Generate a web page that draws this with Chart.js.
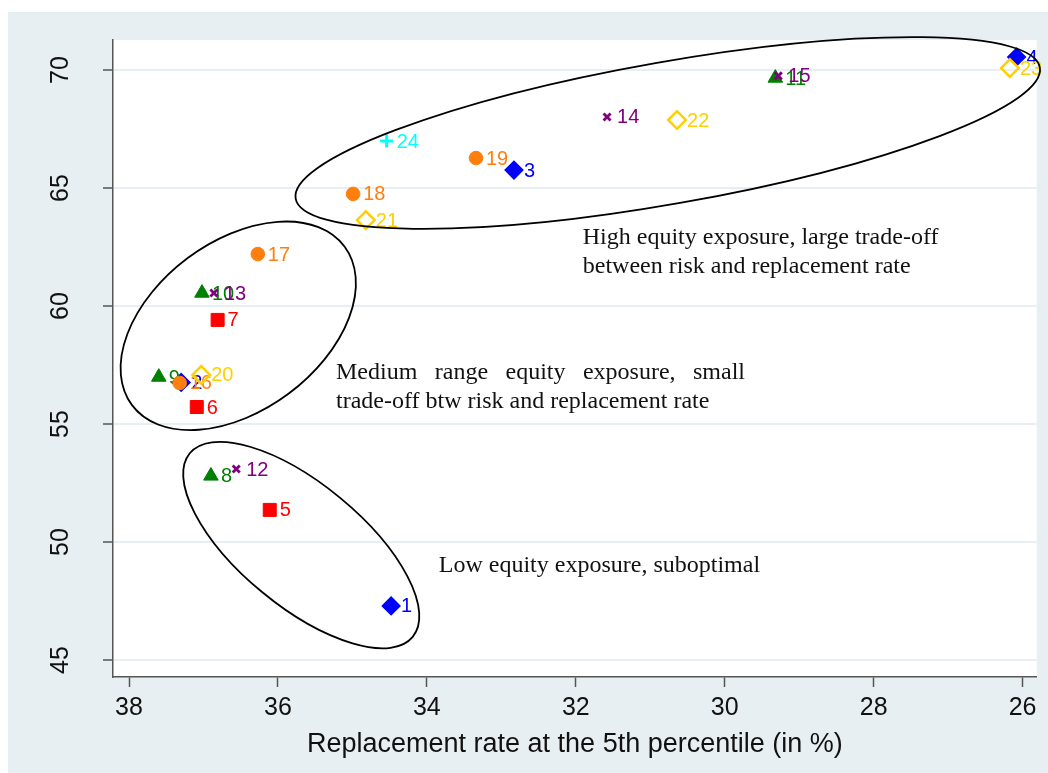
<!DOCTYPE html>
<html><head><meta charset="utf-8">
<script src="https://cdn.jsdelivr.net/npm/chart.js@4/dist/chart.umd.min.js"></script>
<style>html,body{margin:0;padding:0;background:#fff;}#wrap{width:1048px;height:773px;position:relative;}</style>
</head><body><div id="wrap"><canvas id="c" width="1048" height="773"></canvas></div>
<script>
// ---- data ----
const xTicks = [38, 36, 34, 32, 30, 28, 26];
const yTicks = [45, 50, 55, 60, 65, 70];
const xTitle = 'Replacement rate at the 5th percentile (in %)';

const blueIds = [1, 2, 3, 4];
const blueX = [34.48, 37.30, 32.83, 26.08];
const blueY = [47.29, 56.76, 65.76, 70.55];

const redIds = [5, 6, 7];
const redX = [36.11, 37.09, 36.81];
const redY = [51.36, 55.72, 59.41];

const greenIds = [8, 9, 10, 11];
const greenX = [36.90, 37.60, 37.02, 29.32];
const greenY = [52.80, 56.99, 60.55, 69.66];

const purpleIds = [12, 13, 14, 15];
const purpleX = [36.56, 36.86, 31.58, 29.28];
const purpleY = [53.09, 60.55, 68.01, 69.75];

const orangeIds = [16, 17, 18, 19];
const orangeX = [37.32, 36.27, 34.99, 33.34];
const orangeY = [56.74, 62.20, 64.75, 66.27];

const yellowIds = [20, 21, 22, 23];
const yellowX = [37.03, 34.82, 30.64, 26.17];
const yellowY = [57.08, 63.64, 67.88, 70.08];

const cyanIds = [24];
const cyanX = [34.54];
const cyanY = [66.99];

// group annotations (major-axis end points in data units)
const groupEllipses = [
  {p1: [35.762, 64.55], p2: [25.768, 70.11]},
  {p1: [37.96, 55.80], p2: [35.106, 62.52]},
  {p1: [37.184, 53.76], p2: [34.19, 45.98]}
];
const groupNotes = [
  {x: 31.906, y: 62.88, lines: ['High equity exposure, large trade-off', 'between risk and replacement rate']},
  {x: 35.22, y: 57.16, lines: ['Medium range equity exposure, small', 'trade-off btw risk and replacement rate']},
  {x: 33.84, y: 48.98, lines: ['Low equity exposure, suboptimal']}
];

// ---- styles ----
const ellipseMinor = [71, 84.5, 61.2];
const noteJustifyWidth = [0, 409, 0];
const PANEL = '#e8eff2';
const AXIS = '#555555';
const SANS = '"Liberation Sans", Arial, sans-serif';

function pts(xs, ys) { return xs.map((x, i) => ({x: x, y: ys[i]})); }

const series = [
  {ids: blueIds, data: pts(blueX, blueY), color: '#0000ff', style: 'rectRot', r: 8.8, bw: 1.5, fill: '#0000ff'},
  {ids: redIds, data: pts(redX, redY), color: '#ff0000', style: 'rect', r: 9.2, bw: 1, fill: '#ff0000'},
  {ids: greenIds, data: pts(greenX, greenY), color: '#008000', style: 'triangle', r: 8.4, bw: 1, fill: '#008000'},
  {ids: purpleIds, data: pts(purpleX, purpleY), color: '#800080', style: 'crossRot', r: 5, bw: 2.8, fill: '#800080'},
  {ids: orangeIds, data: pts(orangeX, orangeY), color: '#ff7f0e', style: 'circle', r: 6.8, bw: 1, fill: '#ff7f0e'},
  {ids: yellowIds, data: pts(yellowX, yellowY), color: '#ffd000', style: 'rectRot', r: 8.8, bw: 2.5, fill: 'rgba(0,0,0,0)'},
  {ids: cyanIds, data: pts(cyanX, cyanY), color: '#00ffff', style: 'cross', r: 6.5, bw: 3, fill: '#00ffff'}
];

const datasets = series.map((s, i) => ({
  data: s.data,
  pointStyle: s.style,
  pointRadius: s.r,
  pointHoverRadius: s.r,
  pointBorderWidth: s.bw,
  pointBackgroundColor: s.fill,
  pointBorderColor: s.color,
  showLine: false,
  clip: false,
  order: 20 - i
}));

const decor = {
  id: 'decor',
  beforeDraw(chart) {
    const ctx = chart.ctx, a = chart.chartArea;
    ctx.save();
    ctx.fillStyle = '#ffffff';
    ctx.fillRect(0, 0, chart.width, chart.height);
    ctx.fillStyle = PANEL;
    ctx.fillRect(8, 12, chart.width - 8, chart.height - 12);
    ctx.fillStyle = '#ffffff';
    ctx.fillRect(a.left, a.top, a.right - a.left, a.bottom - a.top);
    ctx.restore();
  },
  afterDatasetDraw(chart, args) {
    const s = series[args.index];
    const ctx = chart.ctx;
    ctx.save();
    ctx.font = '20px ' + SANS;
    ctx.fillStyle = s.color;
    ctx.textBaseline = 'middle';
    ctx.textAlign = 'left';
    args.meta.data.forEach((el, j) => {
      ctx.fillText(String(s.ids[j]), el.x + 10, el.y + 1);
    });
    ctx.restore();
  },
  afterDraw(chart) {
    const ctx = chart.ctx, xs = chart.scales.x, ys = chart.scales.y;
    ctx.save();
    // y tick labels, rotated
    ctx.font = '25px ' + SANS;
    ctx.fillStyle = '#111';
    ctx.textAlign = 'center';
    ctx.textBaseline = 'middle';
    yTicks.forEach(v => {
      const py = ys.getPixelForValue(v);
      ctx.save();
      ctx.translate(61, py);
      ctx.rotate(-Math.PI / 2);
      ctx.fillText(String(v), 0, 0);
      ctx.restore();
    });
    // ellipses
    ctx.strokeStyle = '#000';
    ctx.lineWidth = 1.8;
    groupEllipses.forEach((e, i) => {
      const x1 = xs.getPixelForValue(e.p1[0]), y1 = ys.getPixelForValue(e.p1[1]);
      const x2 = xs.getPixelForValue(e.p2[0]), y2 = ys.getPixelForValue(e.p2[1]);
      const cx = (x1 + x2) / 2, cy = (y1 + y2) / 2;
      const a = Math.hypot(x2 - x1, y2 - y1) / 2;
      const rot = Math.atan2(y2 - y1, x2 - x1);
      ctx.beginPath();
      ctx.ellipse(cx, cy, a, ellipseMinor[i], rot, 0, Math.PI * 2);
      ctx.stroke();
    });
    // notes
    ctx.font = '24px "Liberation Serif", "Times New Roman", serif';
    ctx.fillStyle = '#111';
    ctx.textAlign = 'left';
    ctx.textBaseline = 'middle';
    groupNotes.forEach((n, i) => {
      const px = xs.getPixelForValue(n.x), py = ys.getPixelForValue(n.y);
      n.lines.forEach((line, k) => {
        const ly = py + k * 29;
        const target = noteJustifyWidth[i];
        if (target && k === 0) {
          const words = line.split(' ');
          const wsum = words.reduce((s, w) => s + ctx.measureText(w).width, 0);
          const gap = (target - wsum) / (words.length - 1);
          let cx = px;
          words.forEach(w => { ctx.fillText(w, cx, ly); cx += ctx.measureText(w).width + gap; });
        } else {
          ctx.fillText(line, px, ly);
        }
      });
    });
    ctx.restore();
  }
};

new Chart(document.getElementById('c'), {
  type: 'scatter',
  data: {datasets: datasets},
  plugins: [decor],
  options: {
    responsive: false,
    animation: false,
    devicePixelRatio: 1,
    layout: {padding: {left: 0, top: 40, right: 11, bottom: 0}},
    plugins: {legend: {display: false}, tooltip: {enabled: false}},
    scales: {
      x: {
        type: 'linear', reverse: true, min: 25.81, max: 38.215,
        afterBuildTicks(scale) { scale.ticks = xTicks.map(v => ({value: v})); },
        afterFit(scale) { scale.height = 96; },
        border: {display: true, color: AXIS, width: 1.5},
        grid: {drawOnChartArea: false, drawTicks: true, tickLength: 10, tickColor: AXIS, tickWidth: 1.5},
        ticks: {font: {family: SANS, size: 25}, color: '#111', padding: 6, maxRotation: 0, autoSkip: false},
        title: {display: true, text: xTitle, font: {family: SANS, size: 27}, color: '#111', padding: {top: 2, bottom: 12}}
      },
      y: {
        type: 'linear', min: 44.28, max: 71.27,
        afterBuildTicks(scale) { scale.ticks = yTicks.map(v => ({value: v})); },
        afterFit(scale) { scale.width = 113; },
        border: {display: true, color: AXIS, width: 1.5},
        grid: {color: PANEL, lineWidth: 2, drawTicks: true, tickLength: 10, tickColor: AXIS, tickWidth: 1.5},
        ticks: {display: false}
      }
    }
  }
});
</script></body></html>
